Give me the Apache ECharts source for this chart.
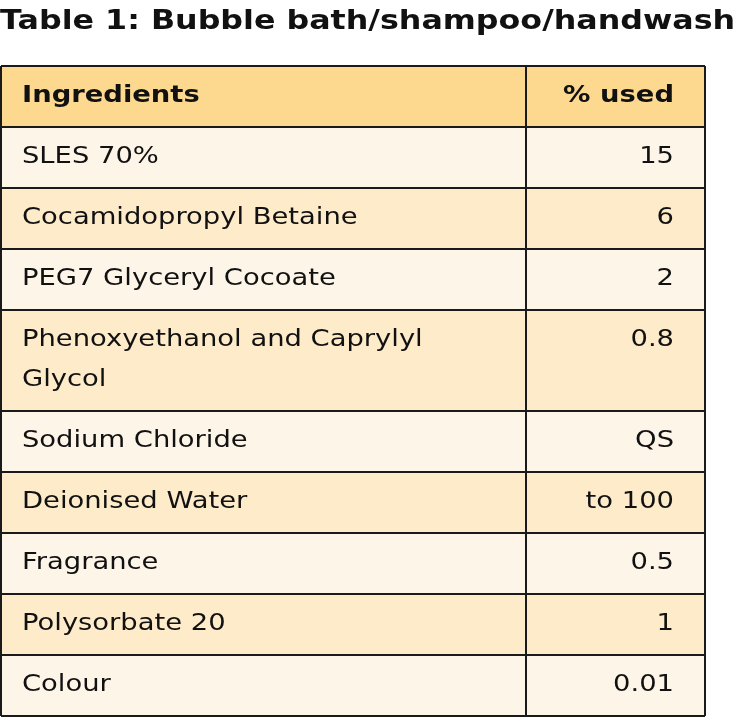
<!DOCTYPE html><html><head><meta charset="utf-8">
<script src="https://cdn.jsdelivr.net/npm/echarts@6/dist/echarts.min.js"></script>
<style>html,body{margin:0;background:#fff}#c{width:738px;height:728px}</style></head><body><div id="c"></div>
<script>
const title = "Table 1: Bubble bath/shampoo/handwash";
const headers = ["Ingredients", "% used"];
const ingredients = ["SLES 70%", "Cocamidopropyl Betaine", "PEG7 Glyceryl Cocoate", "Phenoxyethanol and Caprylyl\nGlycol", "Sodium Chloride", "Deionised Water", "Fragrance", "Polysorbate 20", "Colour"];
const used = ["15", "6", "2", "0.8", "QS", "to 100", "0.5", "1", "0.01"];
const rowLines = [1, 1, 1, 2, 1, 1, 1, 1, 1];

const chart = echarts.init(document.getElementById('c'));
const L = 1, R = 705, MID = 526, TOP = 66, HEAD = 61, ROW = 61, LINEH = 40;
const FONT = "DejaVu Sans";
const SX = 1.19;
const els = [];
els.push({type:'text', x:0, y:22, scaleX:1.22, originX:0, originY:0, style:{text:title, font:"bold 26px "+FONT, fill:'#111', verticalAlign:'middle'}});
els.push({type:'rect', shape:{x:L,y:TOP,width:R-L,height:HEAD}, style:{fill:'#fcd98e'}});
function txt(x,y,s,bold,align){
  els.push({type:'text', x:x, y:y, scaleX:SX, originX:0, originY:0, style:{text:s, font:(bold?'bold ':'')+'23px '+FONT, fill:'#111', align:align, verticalAlign:'middle', lineHeight:LINEH}});
}
txt(22, TOP+HEAD/2, headers[0], true, 'left');
txt(674, TOP+HEAD/2, headers[1], true, 'right');
let y = TOP+HEAD;
const hl = [TOP, y];
ingredients.forEach((ing,i)=>{
  const h = ROW + (rowLines[i]-1)*LINEH;
  els.push({type:'rect', shape:{x:L,y:y,width:R-L,height:h}, style:{fill: i%2===0 ? '#fef5e9' : '#fdebc9'}});
  const cy = y + ROW/2 + (rowLines[i]-1)*LINEH/2;
  els.push({type:'text', x:22, y:cy, scaleX:SX, originX:0, originY:0, style:{text:ing, font:'23px '+FONT, fill:'#111', verticalAlign:'middle', lineHeight:LINEH}});
  txt(674, y+ROW/2, used[i], false, 'right');
  y += h; hl.push(y);
});
hl.forEach(v=>els.push({type:'line', shape:{x1:L,y1:v,x2:R,y2:v}, style:{stroke:'#1a1a1a', lineWidth:2}}));
[L,MID,R].forEach(v=>els.push({type:'line', shape:{x1:v,y1:TOP,x2:v,y2:y}, style:{stroke:'#1a1a1a', lineWidth:2}}));
chart.setOption({animation:false, graphic:els});
</script></body></html>
